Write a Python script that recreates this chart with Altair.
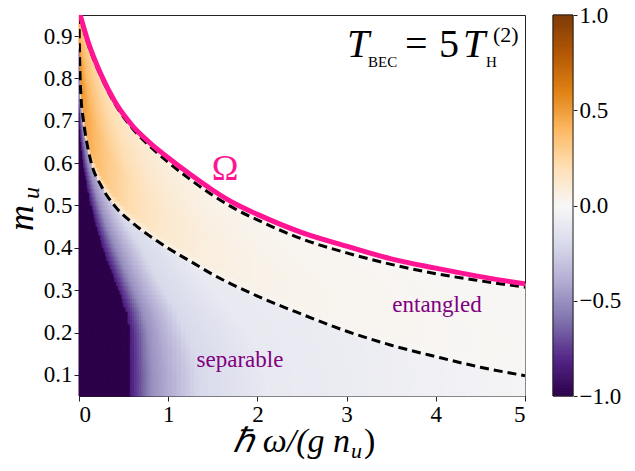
import numpy as np
import pandas as pd
import altair as alt

# ---------------- values ----------------
# Omega curve (pink)
omega_x = [0.0, 0.1, 0.25, 0.4, 0.6, 0.8, 1.0, 1.25, 1.5, 1.75, 2.0, 2.5, 3.0, 3.5, 4.0, 4.5, 5.0]
omega_m = [0.96, 0.888, 0.808, 0.746, 0.688, 0.647, 0.613, 0.573, 0.536, 0.504, 0.479, 0.436, 0.404, 0.374, 0.352, 0.332, 0.315]
# upper dashed curve
upper_x = [0.0, 0.1, 0.25, 0.4, 0.6, 0.8, 1.0, 1.25, 1.5, 1.75, 2.0, 2.5, 3.0, 3.5, 4.0, 4.5, 5.0]
upper_m = [0.955, 0.882, 0.803, 0.741, 0.682, 0.639, 0.602, 0.561, 0.524, 0.492, 0.466, 0.421, 0.388, 0.361, 0.339, 0.322, 0.307]
# lower dashed curve
lower_x = [0.0, 0.005, 0.02, 0.05, 0.08, 0.135, 0.25, 0.4, 0.6, 0.8, 1.0, 1.25, 1.5, 2.0, 2.5, 3.0, 3.5, 4.0, 4.5, 5.0]
lower_m = [0.95, 0.87, 0.765, 0.70, 0.658, 0.603, 0.546, 0.499, 0.459, 0.427, 0.399, 0.368, 0.337, 0.286, 0.243, 0.203, 0.17, 0.143, 0.118, 0.098]

# heat map below the lower dashed curve: per row, x where the colour reaches
# -1 (dark edge), -0.5, -0.2 and -0.1
row_m     = [0.05, 0.10, 0.15, 0.20, 0.25, 0.30, 0.35, 0.40, 0.45, 0.50, 0.55, 0.60, 0.65, 0.70, 0.75, 0.95]
dark_edge = [0.58, 0.58, 0.58, 0.575, 0.535, 0.45, 0.36, 0.27, 0.20, 0.14, 0.09, 0.05, 0.025, 0.008, 0.0, 0.0]
half_x    = [0.82, 0.82, 0.80, 0.78, 0.72, 0.62, 0.52, 0.42, 0.32, 0.24, 0.17, 0.11, 0.07, 0.04, 0.01, 0.01]
fifth_x   = [1.35, 1.35, 1.30, 1.20, 1.10, 0.95, 0.82, 0.70, 0.55, 0.42, 0.32, 0.22, 0.15, 0.09, 0.03, 0.03]
tenth_x   = [2.10, 2.10, 2.00, 1.90, 1.70, 1.50, 1.30, 1.10, 0.90, 0.70, 0.55, 0.40, 0.30, 0.20, 0.06, 0.06]
profile_v = [-0.85, -0.5, -0.2, -0.1, -0.02]

# heat map above the lower dashed curve (orange glow)
amp_x = [0.0, 0.1, 0.2, 0.3, 0.5, 0.75, 1.0, 1.5, 2.0, 3.0, 4.0, 5.0]
amp_v = [0.55, 0.45, 0.38, 0.32, 0.24, 0.17, 0.12, 0.07, 0.045, 0.025, 0.015, 0.01]
share_s = [0.0, 0.1, 0.4, 1.0]
share_g = [0.2, 1.0, 1.0, 0.6]

# colour map (purple -> white -> orange/brown)
cmap_domain = [-1.0, -0.8, -0.6, -0.4, -0.2, 0.0, 0.2, 0.4, 0.6, 0.8, 1.0]
cmap_colors = ["#2d004b", "#542788", "#8073ac", "#b2abd2", "#d8daeb", "#f7f7f7",
               "#fee0b6", "#fdb863", "#e08214", "#b35806", "#7f3b08"]
cb_ticks = [-1.0, -0.5, 0.0, 0.5, 1.0]
x_ticks = [0, 1, 2, 3, 4, 5]
y_ticks = [0.1, 0.2, 0.3, 0.4, 0.5, 0.6, 0.7, 0.8, 0.9]

labels = {"omega": "Ω", "ent": "entangled", "sep": "separable"}

# ---------------- build tables ----------------
x_edges = np.round(np.concatenate([np.arange(0, 0.5, 0.01), np.arange(0.5, 1.0, 0.025),
                                   np.arange(1.0, 5.0001, 0.05)]), 4)
m_edges = np.round(np.arange(0.05, 0.9501, 0.01), 4)
recs = []
for i in range(len(x_edges) - 1):
    x0, x1 = x_edges[i], x_edges[i + 1]
    xc = 0.5 * (x0 + x1)
    om = float(np.interp(xc, omega_x, omega_m))
    L = float(np.interp(xc, lower_x, lower_m))
    for j in range(len(m_edges) - 1):
        m0, m1 = m_edges[j], m_edges[j + 1]
        if m0 >= om:
            break
        top = min(m1, om)
        mc = 0.5 * (m0 + top)
        if mc < L:
            xd = np.interp(mc, row_m, dark_edge)
            if xc < xd:
                v = -1.0
            else:
                xs_ = [xd, max(np.interp(mc, row_m, half_x), xd + 1e-3),
                       max(np.interp(mc, row_m, fifth_x), xd + 2e-3),
                       max(np.interp(mc, row_m, tenth_x), xd + 3e-3), 5.0]
                v = float(np.interp(xc, xs_, profile_v))
        else:
            s = (mc - L) / max(om - L, 1e-6)
            v = float(np.interp(xc, amp_x, amp_v) * np.interp(s, share_s, share_g))
        recs.append({"x": round(float(x0), 4), "x2": round(float(x1), 4),
                     "y": round(float(m0), 4), "y2": round(float(top), 4),
                     "v": round(max(-1.0, min(1.0, v)), 4)})
heat_df = pd.DataFrame(recs)

omega_df = pd.DataFrame({"x": omega_x, "y": omega_m})
upper_df = pd.DataFrame({"x": upper_x, "y": upper_m})
lower_df = pd.DataFrame({"x": lower_x, "y": lower_m})
cb_vals = np.round(np.arange(-1.0, 1.0, 0.01), 3)
cb_df = pd.DataFrame({"y": cb_vals, "y2": np.round(cb_vals + 0.01, 3), "v": np.round(cb_vals + 0.005, 4)})
one = pd.DataFrame({"k": [0]})

SERIF = "Liberation Serif"
W, H = 446, 381

xs = alt.Scale(domain=[0, 5], nice=False, zero=False)
ys = alt.Scale(domain=[0.05, 0.95], nice=False, zero=False)
xa = alt.Axis(values=x_ticks, format="d", title=None, grid=False)
ya = alt.Axis(values=y_ticks, format=".1f", title=None, grid=False, orient="left")
cscale = alt.Scale(domain=cmap_domain, range=cmap_colors, interpolate="rgb", clamp=True)


def X(f="x"):
    return alt.X(f + ":Q", scale=xs, axis=xa)


def Y(f="y"):
    return alt.Y(f + ":Q", scale=ys, axis=ya)


heat = alt.Chart(heat_df).mark_rect(strokeWidth=1).encode(
    x=X(), x2="x2", y=Y(), y2="y2",
    color=alt.Color("v:Q", scale=cscale, legend=None),
    stroke=alt.Stroke("v:Q", scale=cscale, legend=None),
)
lower_line = alt.Chart(lower_df).mark_line(color="black", strokeWidth=3, strokeDash=[9, 5],
                                           clip=True, interpolate="monotone").encode(x=X(), y=Y())
upper_line = alt.Chart(upper_df).mark_line(color="black", strokeWidth=3, strokeDash=[9, 5],
                                           clip=True, interpolate="monotone").encode(x=X(), y=Y())
omega_line = alt.Chart(omega_df).mark_line(color="#ff1493", strokeWidth=5,
                                           clip=True, interpolate="monotone").encode(x=X(), y=Y())


def label(text, x, y, size, color="black", italic=False, align="left", angle=0, font=SERIF):
    kw = dict(text=text, font=font, fontSize=size, color=color, align=align, baseline="alphabetic")
    if italic:
        kw["fontStyle"] = "italic"
    if angle:
        kw["angle"] = angle
    return alt.Chart(one).mark_text(**kw).encode(x=alt.value(x), y=alt.value(y))


texts = [
    label(labels["omega"], 146, 165, 36, color="#ff1493", align="center"),
    label(labels["ent"], 358, 297, 23, color="#800080", align="center"),
    label(labels["sep"], 161, 352, 23, color="#800080", align="center"),
    # T_BEC = 5 T_H^(2)
    label("T", 268, 42, 40, italic=True),
    label("BEC", 289, 52, 15),
    label("=", 326, 42, 40),
    label("5", 360, 42, 40),
    label("T", 384, 42, 40, italic=True),
    label("H", 407, 52, 15),
    label("(2)", 414, 27, 22),
    # x title
    label("ℏ ω/(g n", 271, 437, 34, italic=True, align="right"),
    label("u", 272, 443, 22, italic=True),
    label(")", 285, 437, 34),
    # y title
    label("m", -46, 203, 36, italic=True, align="center", angle=270),
    label("u", -40, 178, 24, italic=True, align="center", angle=270),
]

main = alt.layer(heat, lower_line, upper_line, omega_line, *texts)

cb_rect = alt.Chart(cb_df).mark_rect(strokeWidth=1).encode(
    x=alt.value(474), x2=alt.value(494),
    y=alt.Y("y:Q", scale=alt.Scale(domain=[-1, 1], nice=False, zero=False),
            axis=alt.Axis(orient="right", offset=48, values=cb_ticks, format=".1f", title=None,
                          domain=False, grid=False, tickSize=4, labelPadding=2)),
    y2="y2",
    color=alt.Color("v:Q", scale=cscale, legend=None),
    stroke=alt.Stroke("v:Q", scale=cscale, legend=None),
)
cb_frame = alt.Chart(one).mark_rect(fill="transparent", stroke="#222222", strokeWidth=1).encode(
    x=alt.value(474), x2=alt.value(494), y=alt.value(0), y2=alt.value(H))
cbar = alt.layer(cb_rect, cb_frame)

chart = alt.layer(main, cbar).resolve_scale(y="independent").properties(
    width=W, height=H,
    autosize=alt.AutoSizeParams(type="none"),
    padding={"left": 71, "top": 7, "right": 100, "bottom": 67},
).configure_view(stroke="#222222", strokeWidth=1).configure_axis(
    labelFont=SERIF, labelFontSize=23, labelColor="black", tickColor="#222222",
    domainColor="#222222", tickSize=5, labelPadding=2, grid=False,
)

chart.save("out.html", embed_options={"renderer": "svg", "actions": False})
